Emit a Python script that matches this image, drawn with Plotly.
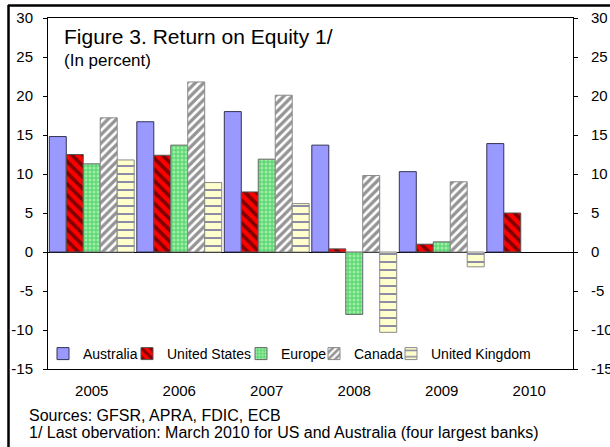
import plotly.graph_objects as go

years = ["2005", "2006", "2007", "2008", "2009", "2010"]
australia = [14.8, 16.7, 18.0, 13.7, 10.3, 13.9]
united_states = [12.5, 12.4, 7.7, 0.4, 1.0, 5.0]
europe = [11.3, 13.7, 11.9, -8.0, 1.3, None]
canada = [17.2, 21.8, 20.1, 9.8, 9.0, None]
united_kingdom = [11.8, 8.9, 6.2, -10.3, -1.9, None]

y_ticks = [-15, -10, -5, 0, 5, 10, 15, 20, 25, 30]
y_tick_labels = [str(v) for v in y_ticks]

FONT = "Arial, 'Liberation Sans', sans-serif"

L, R, T, B = 48, 37, 18, 78
W, H = 610, 447
PW, PH = W - L - R, H - T - B


def px(x):
    return (x - L) / PW


def py(y):
    return (H - B - y) / PH


series = [
    ("Australia", australia, dict(color="#9999FF", line=dict(color="#333355", width=1))),
    ("United States", united_states, dict(color="#FF0000", line=dict(color="#555555", width=1),
                                         pattern=dict(shape="\\", fgcolor="#000000", bgcolor="#FF0000",
                                                      size=8, solidity=0.45))),
    ("Europe", europe, dict(color="#66DD77", line=dict(color="#666666", width=1),
                            pattern=dict(shape=".", fgcolor="#DDFFDD", bgcolor="#5ED873",
                                         size=4, solidity=0.45))),
    ("Canada", canada, dict(color="#FFFFFF", line=dict(color="#888888", width=1),
                            pattern=dict(shape="/", fgcolor="#2A2A2A", bgcolor="#FFFFFF",
                                         size=6, solidity=0.55))),
    ("United Kingdom", united_kingdom, dict(color="#FFFFCC", line=dict(color="#888888", width=1),
                                            pattern=dict(shape="-", fgcolor="#1A1A80", bgcolor="#FFFFCC",
                                                         size=8, solidity=0.25))),
]

legend_text_x = [83, 167, 281, 354, 431]
legend_names = ["legend", "legend2", "legend3", "legend4", "legend5"]

fig = go.Figure()
for (name, vals, marker), lg in zip(series, legend_names):
    fig.add_trace(go.Bar(x=years, y=vals, name=name, marker=marker, legend=lg))

legend_layout = {}
for tx, lg in zip(legend_text_x, legend_names):
    legend_layout[lg] = dict(
        x=px(tx - 40), xanchor="left", y=py(354), yanchor="middle",
        orientation="h", bgcolor="rgba(0,0,0,0)", borderwidth=0,
        font=dict(family=FONT, size=14, color="#000000"),
    )

fig.update_layout(
    width=W, height=H,
    margin=dict(l=L, r=R, t=T, b=B, autoexpand=False),
    paper_bgcolor="#FFFFFF", plot_bgcolor="#FFFFFF",
    barmode="group", bargap=0.03, bargroupgap=0,
    font=dict(family=FONT, size=15, color="#000000"),
    showlegend=True,
    xaxis=dict(type="category", categoryorder="array", categoryarray=years,
               range=[-0.5, 5.5], showline=True, mirror=True, linecolor="#000000", linewidth=1,
               ticks="", showgrid=False, ticklabelstandoff=8, automargin=False,
               tickfont=dict(family=FONT, size=15)),
    yaxis=dict(range=[-15, 30], tickvals=y_ticks, ticktext=y_tick_labels,
               showline=True, linecolor="#000000", linewidth=1, automargin=False,
               ticks="outside", ticklen=4, tickcolor="#000000", showgrid=False,
               zeroline=True, zerolinecolor="#000000", zerolinewidth=1,
               ticklabelstandoff=7, tickfont=dict(family=FONT, size=15)),
    yaxis2=dict(range=[-15, 30], tickvals=y_ticks, ticktext=y_tick_labels,
                overlaying="y", side="right", automargin=False,
                showline=True, linecolor="#000000", linewidth=1,
                ticks="outside", ticklen=4, tickcolor="#000000", showgrid=False, zeroline=False,
                ticklabelstandoff=10, tickfont=dict(family=FONT, size=15)),
    **legend_layout,
)

fig.add_annotation(text="Figure 3. Return on Equity 1/", xref="paper", yref="paper",
                   x=px(62), y=py(36), xanchor="left", yanchor="middle", showarrow=False,
                   font=dict(family=FONT, size=21, color="#000000"))
fig.add_annotation(text="(In percent)", xref="paper", yref="paper",
                   x=px(62), y=py(61), xanchor="left", yanchor="middle", showarrow=False,
                   font=dict(family=FONT, size=17, color="#000000"))
fig.add_annotation(text="Sources: GFSR, APRA, FDIC, ECB", xref="paper", yref="paper",
                   x=px(27), y=py(415), xanchor="left", yanchor="middle", showarrow=False,
                   font=dict(family=FONT, size=16, color="#000000"))
fig.add_annotation(text="1/ Last obervation: March 2010 for US and Australia (four largest banks)",
                   xref="paper", yref="paper",
                   x=px(27), y=py(432), xanchor="left", yanchor="middle", showarrow=False,
                   font=dict(family=FONT, size=16, color="#000000"))

# outer frame (top and left edges visible)
fig.add_shape(type="line", xref="paper", yref="paper", x0=px(8), x1=px(W + 5), y0=py(5.5), y1=py(5.5),
              line=dict(color="#000000", width=2.5))
fig.add_shape(type="line", xref="paper", yref="paper", x0=px(8.5), x1=px(8.5), y0=py(5), y1=py(H + 5),
              line=dict(color="#000000", width=2.5))

# dummy trace to activate the right axis
fig.add_trace(go.Scatter(x=[years[0]], y=[None], yaxis="y2", showlegend=False, hoverinfo="skip"))

fig.write_html("out.html", config={"displayModeBar": False},
               post_script="document.body.style.margin='0';document.body.style.overflow='hidden';")
